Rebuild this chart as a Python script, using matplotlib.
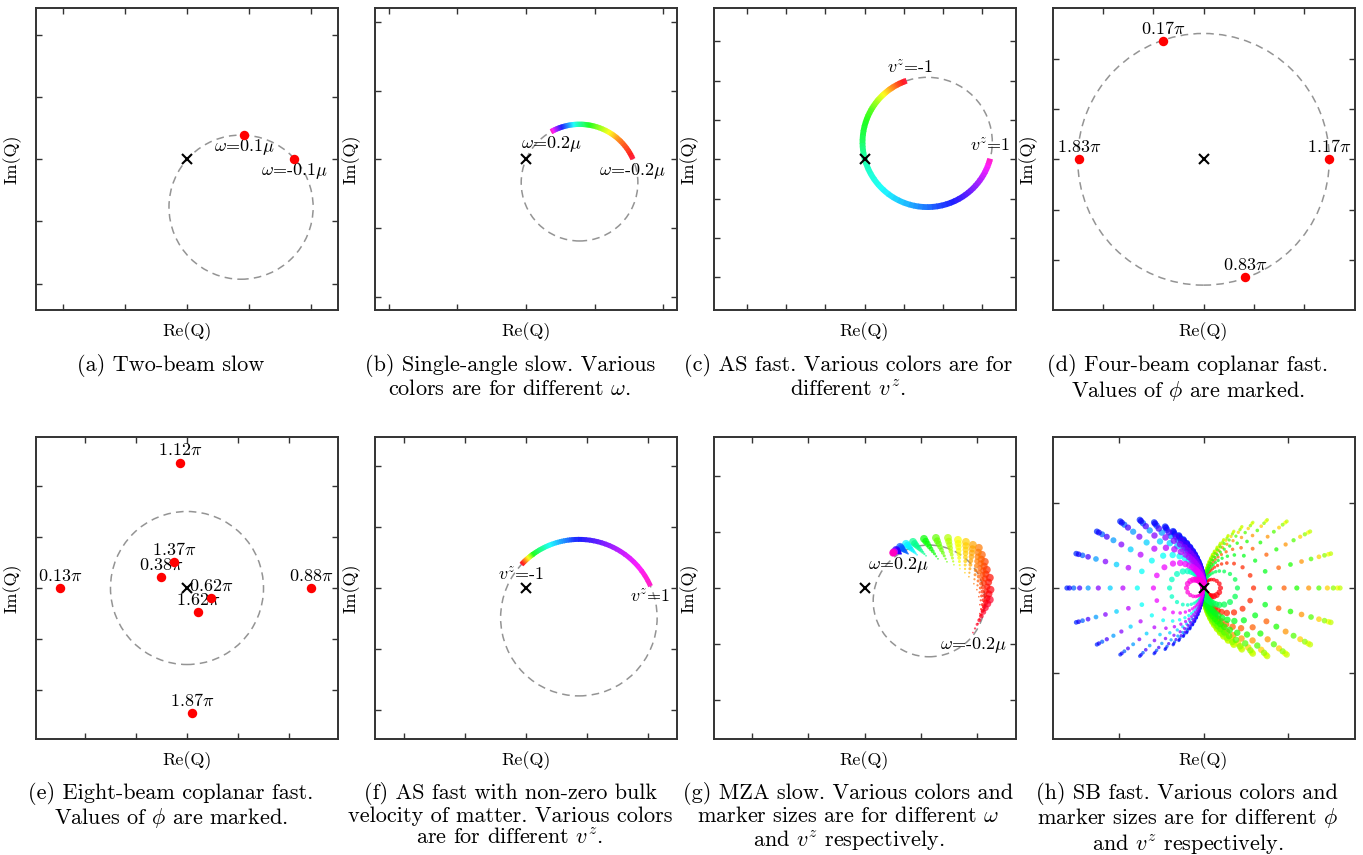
import numpy as np
import matplotlib as mpl
import matplotlib.pyplot as plt
from matplotlib.patches import Circle, Arc
from matplotlib.colors import Normalize

mpl.rcParams['font.family'] = 'cmr10'
mpl.rcParams['mathtext.fontset'] = 'cm'
mpl.rcParams['axes.unicode_minus'] = False
mpl.rcParams['axes.formatter.use_mathtext'] = True

# ---------------- data (axis units: one tick spacing = 1) ----------------
# (a) two-beam slow
a_circle = (0.87, -0.77, 1.16)
a_x = [0.92, 1.72]
a_y = [0.39, 0.00]
a_text = [r'$\omega$=0.1$\mu$', r'$\omega$=-0.1$\mu$']

# (b) single-angle slow, arc on circle, angle (deg) for each omega
b_circle = (0.78, -0.34, 0.85)
b_omega = [-0.2, -0.18, -0.16, -0.14, -0.12, -0.10, -0.08, -0.06, -0.04, -0.02,
           0.0, 0.02, 0.04, 0.06, 0.08, 0.10, 0.12, 0.14, 0.16, 0.18, 0.2]
b_angle = [24, 33, 45, 52, 58, 64, 70, 76, 80.5, 85,
           89.5, 94, 97, 100, 103.5, 107, 110, 112.5, 115, 117, 119]

# (c) AS fast
c_circle = (1.60, 0.435, 1.65)
c_vz = [-1.0, -0.9, -0.8, -0.7, -0.6, -0.5, -0.4, -0.3, -0.2, -0.1,
        0.0, 0.1, 0.2, 0.3, 0.4, 0.5, 0.6, 0.7, 0.8, 0.9, 1.0]
c_angle = [109, 115, 120.6, 126, 131, 137, 143, 150, 162, 178,
           190, 209, 233, 254, 270, 287, 303, 315, 327, 338, 345]

# (d) four-beam coplanar fast
d_circle = (0.0, 0.0, 2.5)
d_x = [-0.81, -2.48, 2.49, 0.83]
d_y = [2.35, 0.0, 0.0, -2.33]
d_text = [r'0.17$\pi$', r'1.83$\pi$', r'1.17$\pi$', r'0.83$\pi$']

# (e) eight-beam coplanar fast
e_circle = (0.0, 0.0, 1.5)
e_x = [-0.13, 0.10, -2.49, 2.44, -0.25, -0.51, 0.475, 0.21]
e_y = [2.46, -2.46, 0.0, 0.0, 0.50, 0.21, -0.20, -0.48]
e_text = [r'1.12$\pi$', r'1.87$\pi$', r'0.13$\pi$', r'0.88$\pi$',
          r'1.37$\pi$', r'0.38$\pi$', r'0.62$\pi$', r'1.62$\pi$']

# (f) AS fast with bulk velocity
f_circle = (0.865, -0.485, 1.28)
f_vz = c_vz
f_angle = [137, 135, 133.5, 132, 130.5, 129, 127.5, 126.5, 125.5, 122,
           118, 114, 110, 104, 98, 93, 82, 70, 58, 41, 24]

# (g) MZA slow: inner (v^z=-1) and outer (v^z=1) point for each omega
g_circle = (1.15, -0.23, 0.995)
g_omega = [-0.2, -0.192, -0.184, -0.176, -0.168, -0.16, -0.152, -0.14, -0.128,
           -0.112, -0.092, -0.068, -0.04, 0.0, 0.036, 0.08, 0.12, 0.16, 0.2]
g_in_x = [1.931, 2.020, 2.055, 2.055, 2.037, 2.002, 1.948, 1.860, 1.789, 1.700,
          1.593, 1.469, 1.309, 1.096, 0.936, 0.776, 0.652, 0.563, 0.510]
g_in_y = [-0.794, -0.634, -0.456, -0.297, -0.155, -0.030, 0.076, 0.201, 0.272, 0.343,
          0.414, 0.467, 0.520, 0.574, 0.591, 0.609, 0.609, 0.627, 0.627]
g_out_x = [2.233, 2.245, 2.233, 2.179, 2.144, 2.091, 2.037, 1.931, 1.807, 1.665,
           1.487, 1.273, 1.060, 0.864, 0.740, 0.634, 0.563, 0.528, 0.510]
g_out_y = [-0.208, -0.030, 0.183, 0.325, 0.467, 0.592, 0.716, 0.769, 0.822, 0.858,
           0.893, 0.893, 0.876, 0.822, 0.787, 0.734, 0.680, 0.645, 0.627]
g_vz = [-1.0, -0.75, -0.5, -0.25, 0.0, 0.25, 0.5, 0.75, 1.0]

# (h) SB fast: circles through origin (signed diameter per phi), rays per v^z
h_phi = [0.02, 0.06, 0.10, 0.14, 0.18, 0.22, 0.26, 0.30, 0.34, 0.38, 0.42, 0.46,
         0.50, 0.54, 0.58, 0.62, 0.66, 0.70, 0.74, 0.78, 0.82, 0.86, 0.90, 0.94, 0.98]
h_diam = [0.20, 0.59, 0.95, 1.24, 1.46, 1.58, 1.61, 1.53, 1.36, 1.10, 0.78, 0.40,
          0.0, -0.40, -0.78, -1.10, -1.36, -1.53, -1.61, -1.58, -1.46, -1.24, -0.95, -0.59, -0.20]
h_tan = [0.0, 0.27, 0.53, 0.8, 1.07, 1.33, 1.6, 1.87, 2.13, 2.4, 2.67, 3.0,
         3.4, 3.8, 4.3, 4.9, 5.6, 6.5, 7.6, 9.0, 11.0, 14.0, 18.0]
h_vz = [0.0, 0.26, 0.47, 0.62, 0.73, 0.80, 0.85, 0.88, 0.905, 0.923, 0.936, 0.949,
        0.959, 0.967, 0.974, 0.980, 0.984, 0.988, 0.991, 0.994, 0.996, 0.997, 0.998]

limits = [2.43, 2.2, 3.84, 3.0, 2.96, 2.47, 2.69, 1.78]

captions = [
    '(a) Two-beam slow',
    '(b) Single-angle slow. Various\ncolors are for different $\\omega$.',
    '(c) AS fast. Various colors are for\ndifferent $v^z$.',
    '(d) Four-beam coplanar fast.\nValues of $\\phi$ are marked.',
    '(e) Eight-beam coplanar fast.\nValues of $\\phi$ are marked.',
    '(f) AS fast with non-zero bulk\nvelocity of matter. Various colors\nare for different $v^z$.',
    '(g) MZA slow. Various colors and\nmarker sizes are for different $\\omega$\nand $v^z$ respectively.',
    '(h) SB fast. Various colors and\nmarker sizes are for different $\\phi$\nand $v^z$ respectively.',
]

# ---------------- figure ----------------
W, H = 1363, 855
fig = plt.figure(figsize=(W / 100.0, H / 100.0), dpi=100)
cmap = plt.get_cmap('gist_rainbow')

col_x = [36, 375, 713.5, 1052.5]
row_y = [8.3, 437]
cap_gap = [44, 43]
box = 302


def make_ax(i):
    col, row = i % 4, i // 4
    lim = limits[i]
    ax = fig.add_axes([col_x[col] / W, (H - row_y[row] - box) / H, box / W, box / H])
    ax.set_xlim(-lim, lim)
    ax.set_ylim(-lim, lim)
    k = int(np.ceil(lim)) - 1
    t = np.arange(-k, k + 1)
    ax.set_xticks(t)
    ax.set_yticks(t)
    ax.set_xticklabels([])
    ax.set_yticklabels([])
    ax.tick_params(direction='in', length=4.5, width=1, top=True, right=True,
                   color='#333333')
    for sp in ax.spines.values():
        sp.set_linewidth(1.4)
        sp.set_color('#333333')
    ax.set_xlabel('Re(Q)', fontsize=13, labelpad=5)
    ax.set_ylabel('Im(Q)', fontsize=13, labelpad=7)
    fig.text((col_x[col] + box / 2.0 - 16) / W, 1 - (row_y[row] + box + cap_gap[row]) / H,
             captions[i], ha='center', va='top', fontsize=16, linespacing=1.08)
    return ax


def dashed(ax, c):
    ax.add_patch(Circle((c[0], c[1]), c[2], fill=False, ec='0.58', lw=1.1,
                        ls=(0, (5, 3.4)), zorder=1))


def cross(ax):
    ax.plot([0], [0], 'x', color='k', ms=7.5, mew=1.5, zorder=10)


def dots(ax, x, y):
    ax.plot(x, y, 'o', color='red', ms=6.8, mec='none', zorder=6)


def soft(col, a=0.88):
    col = np.array(col, dtype=float)
    col[:3] = a * col[:3] + (1 - a)
    return col


def arc(ax, c, ang, vals, vmin, vmax, lw):
    # colored arc drawn piecewise on the circle between the read angles
    norm = Normalize(vmin, vmax)
    for i in range(len(ang) - 1):
        a0, a1 = ang[i], ang[i + 1]
        v0, v1 = vals[i], vals[i + 1]
        for j in range(4):
            t0, t1 = j / 4.0, (j + 1) / 4.0
            th0 = a0 + (a1 - a0) * t0
            th1 = a0 + (a1 - a0) * t1
            col = soft(cmap(norm(v0 + (v1 - v0) * (t0 + t1) / 2)))
            ax.add_patch(Arc((c[0], c[1]), 2 * c[2], 2 * c[2],
                             theta1=min(th0, th1) - 0.3, theta2=max(th0, th1) + 0.3,
                             color=col, lw=lw, zorder=4))
    a = np.deg2rad([ang[0], ang[-1]])
    return c[0] + c[2] * np.cos(a), c[1] + c[2] * np.sin(a)


def label(ax, x, y, s, above, dx=0):
    if above:
        ax.annotate(s, (x, y), xytext=(dx, 3), textcoords='offset points',
                    ha='center', va='bottom', fontsize=13, zorder=5)
    else:
        ax.annotate(s, (x, y), xytext=(dx, -1.5), textcoords='offset points',
                    ha='center', va='top', fontsize=13, zorder=5)


# (a)
ax = make_ax(0)
dashed(ax, a_circle)
dots(ax, a_x, a_y)
for x, y, s in zip(a_x, a_y, a_text):
    label(ax, x, y, s, False)
cross(ax)

# (b)
ax = make_ax(1)
dashed(ax, b_circle)
bx, by = arc(ax, b_circle, b_angle, b_omega, -0.2, 0.2, 3.8)
label(ax, bx[1], by[1], r'$\omega$=0.2$\mu$', False)
label(ax, bx[0], by[0], r'$\omega$=-0.2$\mu$', False)
cross(ax)

# (c)
ax = make_ax(2)
dashed(ax, c_circle)
cx, cy = arc(ax, c_circle, c_angle, c_vz, -1, 1, 4.2)
label(ax, cx[0], cy[0], r'$v^z$=-1', True, dx=3)
label(ax, cx[1], cy[1], r'$v^z$=1', True)
cross(ax)

# (d)
ax = make_ax(3)
dashed(ax, d_circle)
dots(ax, d_x, d_y)
for x, y, s in zip(d_x, d_y, d_text):
    label(ax, x, y, s, True)
cross(ax)

# (e)
ax = make_ax(4)
dashed(ax, e_circle)
dots(ax, e_x, e_y)
for x, y, s in zip(e_x, e_y, e_text):
    label(ax, x, y, s, True)
cross(ax)

# (f)
ax = make_ax(5)
dashed(ax, f_circle)
fx, fy = arc(ax, f_circle, f_angle, f_vz, -1, 1, 3.6)
label(ax, fx[0], fy[0], r'$v^z$=-1', False)
label(ax, fx[1], fy[1], r'$v^z$=1', False)
cross(ax)

# (g)
ax = make_ax(6)
dashed(ax, g_circle)
norm = Normalize(-0.2, 0.2)
for k, w in enumerate(g_omega):
    for v in g_vz:
        f = (v + 1) / 2.0
        x = g_in_x[k] + f * (g_out_x[k] - g_in_x[k])
        y = g_in_y[k] + f * (g_out_y[k] - g_in_y[k])
        ax.scatter([x], [y], s=1.5 + 30 * f ** 1.6, color=cmap(norm(w)),
                   alpha=0.7, edgecolors='none', zorder=4)
label(ax, g_out_x[-1], g_out_y[-1], r'$\omega$=0.2$\mu$', False, dx=4)
label(ax, g_in_x[0], g_in_y[0], r'$\omega$=-0.2$\mu$', False)
cross(ax)

# (h)
ax = make_ax(7)
for p, d in zip(h_phi, h_diam):
    if d == 0:
        continue
    col = cmap(p)
    for t, v in zip(h_tan, h_vz):
        for sgn in ([1] if t == 0 else [1, -1]):
            x = d / (1 + t * t)
            y = sgn * abs(d) * t / (1 + t * t)
            side = -np.sign(d) * sgn if t != 0 else 0
            ax.scatter([x], [y], s=14 * (1 + 0.7 * v * side), color=col,
                       alpha=0.72, edgecolors='none', zorder=4)
cross(ax)

fig.savefig('out.png', dpi=100)
